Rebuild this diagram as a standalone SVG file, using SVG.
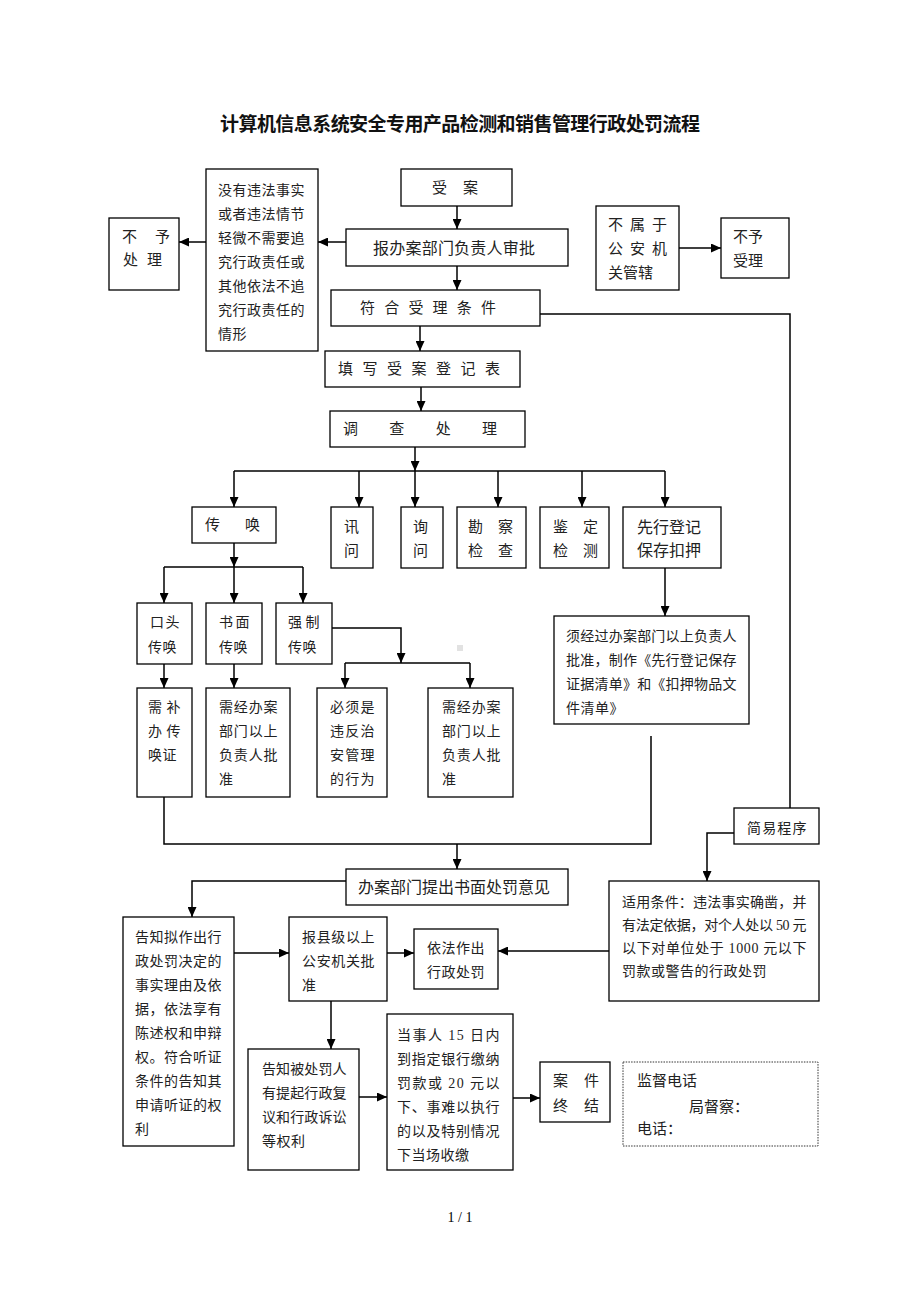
<svg xmlns="http://www.w3.org/2000/svg" width="920" height="1302" viewBox="0 0 920 1302">
<style>
.bx{fill:#fff;stroke:#000;stroke-width:1.3}
.dot{fill:#fff;stroke:#333;stroke-width:1;stroke-dasharray:1.5 1.2}
.c{fill:none;stroke:#000;stroke-width:1.5}
text{font-family:"Liberation Serif","Noto Sans CJK SC",serif;fill:#222;dominant-baseline:central}
.t14{font-size:14px;letter-spacing:0.5px}
.t15{font-size:15px}
.t16{font-size:16px}
.title{font-family:"Liberation Sans","Noto Sans CJK SC",sans-serif;font-size:19px;font-weight:bold;fill:#111}
.pg{font-size:14px;fill:#000}
</style>
<defs>
<marker id="ar" markerUnits="userSpaceOnUse" markerWidth="10" markerHeight="9" refX="10" refY="4.5" orient="auto">
<path d="M0,0 L10,4.5 L0,9 z" fill="#000"/>
</marker>
</defs>
<rect width="920" height="1302" fill="#fff"/>
<text class="title" x="220" y="124" textLength="480" lengthAdjust="spacing">计算机信息系统安全专用产品检测和销售管理行政处罚流程</text>

<g id="connectors">
<path class="c" d="M457 206 V229" marker-end="url(#ar)"/>
<path class="c" d="M346 242 H318" marker-end="url(#ar)"/>
<path class="c" d="M206 242 H179" marker-end="url(#ar)"/>
<path class="c" d="M457 266 V290" marker-end="url(#ar)"/>
<path class="c" d="M679 248 H721" marker-end="url(#ar)"/>
<path class="c" d="M540 314 H790 V808"/>
<path class="c" d="M420 326 V351" marker-end="url(#ar)"/>
<path class="c" d="M421 387 V411" marker-end="url(#ar)"/>
<path class="c" d="M415 447 V471" marker-end="url(#ar)"/>
<path class="c" d="M234 471 H665"/>
<path class="c" d="M234 471 V507" marker-end="url(#ar)"/>
<path class="c" d="M359 471 V507" marker-end="url(#ar)"/>
<path class="c" d="M415 471 V507" marker-end="url(#ar)"/>
<path class="c" d="M498 471 V507" marker-end="url(#ar)"/>
<path class="c" d="M582 471 V507" marker-end="url(#ar)"/>
<path class="c" d="M665 471 V507" marker-end="url(#ar)"/>
<path class="c" d="M234 543 V567" marker-end="url(#ar)"/>
<path class="c" d="M164 567 H303"/>
<path class="c" d="M164 567 V603" marker-end="url(#ar)"/>
<path class="c" d="M234 567 V603" marker-end="url(#ar)"/>
<path class="c" d="M303 567 V603" marker-end="url(#ar)"/>
<path class="c" d="M332 628 H401 V663" marker-end="url(#ar)"/>
<path class="c" d="M345 663 H470"/>
<path class="c" d="M345 663 V688" marker-end="url(#ar)"/>
<path class="c" d="M470 663 V688" marker-end="url(#ar)"/>
<path class="c" d="M164 664 V688" marker-end="url(#ar)"/>
<path class="c" d="M234 664 V688" marker-end="url(#ar)"/>
<path class="c" d="M665 568 V616" marker-end="url(#ar)"/>
<path class="c" d="M164 797 V844 H651 V736"/>
<path class="c" d="M457 844 V869" marker-end="url(#ar)"/>
<path class="c" d="M346 881 H192 V917" marker-end="url(#ar)"/>
<path class="c" d="M234 953 H289" marker-end="url(#ar)"/>
<path class="c" d="M387 953 H414" marker-end="url(#ar)"/>
<path class="c" d="M609 951 H498" marker-end="url(#ar)"/>
<path class="c" d="M734 833 H707 V881" marker-end="url(#ar)"/>
<path class="c" d="M331 1001 V1049" marker-end="url(#ar)"/>
<path class="c" d="M359 1097 H387" marker-end="url(#ar)"/>
<path class="c" d="M513 1098 H540" marker-end="url(#ar)"/>
</g>

<g id="n-shouan"><rect class="bx" x="401" y="169" width="111" height="37"/>
<text class="t15" x="432" y="188" textLength="46">受　案</text></g>

<g id="n-baoban"><rect class="bx" x="346" y="229" width="222" height="37"/>
<text class="t16" x="373" y="248" textLength="162">报办案部门负责人审批</text></g>

<g id="n-meiyou"><rect class="bx" x="206" y="169" width="112" height="182"/>
<text class="t14" x="218" y="190">没有违法事实</text>
<text class="t14" x="218" y="214">或者违法情节</text>
<text class="t14" x="218" y="238">轻微不需要追</text>
<text class="t14" x="218" y="262">究行政责任或</text>
<text class="t14" x="218" y="286">其他依法不追</text>
<text class="t14" x="218" y="310">究行政责任的</text>
<text class="t14" x="218" y="334">情形</text></g>

<g id="n-buyuchuli"><rect class="bx" x="109" y="218" width="70" height="72"/>
<text class="t15" x="122" y="237" textLength="48">不　予</text>
<text class="t15" x="123" y="260" textLength="39">处 理</text></g>

<g id="n-fuhe"><rect class="bx" x="331" y="290" width="209" height="36"/>
<text class="t15" x="360" y="308" textLength="136">符 合 受 理 条 件</text></g>

<g id="n-bushuyu"><rect class="bx" x="596" y="206" width="83" height="84"/>
<text class="t15" x="608" y="225" textLength="59">不 属 于</text>
<text class="t15" x="608" y="249" textLength="59">公 安 机</text>
<text class="t15" x="608" y="273">关管辖</text></g>

<g id="n-buyushouli"><rect class="bx" x="721" y="218" width="68" height="60"/>
<text class="t15" x="733" y="237">不予</text>
<text class="t15" x="733" y="261">受理</text></g>

<g id="n-tianxie"><rect class="bx" x="325" y="351" width="195" height="36"/>
<text class="t15" x="338" y="369" textLength="162">填 写 受 案 登 记 表</text></g>

<g id="n-diaocha"><rect class="bx" x="330" y="411" width="195" height="36"/>
<text class="t15" x="343" y="429" textLength="154">调　　查　　处　　理</text></g>

<g id="n-chuanhuan"><rect class="bx" x="192" y="507" width="84" height="36"/>
<text class="t15" x="205" y="525" textLength="55">传　　唤</text></g>

<g id="n-xunwen1"><rect class="bx" x="331" y="507" width="42" height="61"/>
<text class="t15" x="344" y="527">讯</text>
<text class="t15" x="344" y="551">问</text></g>

<g id="n-xunwen2"><rect class="bx" x="401" y="507" width="42" height="61"/>
<text class="t15" x="413" y="527">询</text>
<text class="t15" x="413" y="551">问</text></g>

<g id="n-kancha"><rect class="bx" x="457" y="507" width="69" height="61"/>
<text class="t15" x="468" y="527" textLength="45">勘 察</text>
<text class="t15" x="468" y="551" textLength="45">检 查</text></g>

<g id="n-jianding"><rect class="bx" x="540" y="507" width="69" height="61"/>
<text class="t15" x="553" y="527" textLength="45">鉴 定</text>
<text class="t15" x="553" y="551" textLength="45">检 测</text></g>

<g id="n-xianxing"><rect class="bx" x="623" y="507" width="98" height="61"/>
<text class="t16" x="637" y="527">先行登记</text>
<text class="t16" x="637" y="550">保存扣押</text></g>

<g id="n-koutou"><rect class="bx" x="137" y="603" width="55" height="61"/>
<text class="t14" x="150" y="622" textLength="30">口 头</text>
<text class="t14" x="148" y="647">传唤</text></g>

<g id="n-shumian"><rect class="bx" x="206" y="603" width="56" height="61"/>
<text class="t14" x="219" y="622" textLength="31">书 面</text>
<text class="t14" x="219" y="647">传唤</text></g>

<g id="n-qiangzhi"><rect class="bx" x="276" y="603" width="56" height="61"/>
<text class="t14" x="288" y="622" textLength="32">强 制</text>
<text class="t14" x="288" y="647">传唤</text></g>

<rect x="457" y="645" width="6" height="6" fill="#e2e2e2"/>

<g id="n-xubu"><rect class="bx" x="137" y="688" width="55" height="109"/>
<text class="t14" x="148" y="707" textLength="33">需 补</text>
<text class="t14" x="148" y="731" textLength="33">办 传</text>
<text class="t14" x="148" y="755">唤证</text></g>

<g id="n-xujing1"><rect class="bx" x="206" y="688" width="84" height="109"/>
<text class="t14" x="219" y="707" textLength="59">需经办案</text>
<text class="t14" x="219" y="731" textLength="59">部门以上</text>
<text class="t14" x="219" y="755" textLength="59">负责人批</text>
<text class="t14" x="219" y="779">准</text></g>

<g id="n-bixu"><rect class="bx" x="317" y="688" width="70" height="109"/>
<text class="t14" x="330" y="707" textLength="45">必须是</text>
<text class="t14" x="330" y="731" textLength="45">违反治</text>
<text class="t14" x="330" y="755" textLength="45">安管理</text>
<text class="t14" x="330" y="779" textLength="45">的行为</text></g>

<g id="n-xujing2"><rect class="bx" x="428" y="688" width="85" height="109"/>
<text class="t14" x="442" y="707" textLength="59">需经办案</text>
<text class="t14" x="442" y="731" textLength="59">部门以上</text>
<text class="t14" x="442" y="755" textLength="59">负责人批</text>
<text class="t14" x="442" y="779">准</text></g>

<g id="n-xujingguo"><rect class="bx" x="554" y="616" width="195" height="108"/>
<text class="t14" x="566" y="636" textLength="171">须经过办案部门以上负责人</text>
<text class="t14" x="566" y="660" textLength="171">批准，制作《先行登记保存</text>
<text class="t14" x="566" y="684" textLength="171">证据清单》和《扣押物品文</text>
<text class="t14" x="566" y="708">件清单》</text></g>

<g id="n-jianyi"><rect class="bx" x="734" y="808" width="85" height="36"/>
<text class="t14" x="747" y="828" textLength="60">简易程序</text></g>

<g id="n-tichu"><rect class="bx" x="346" y="869" width="222" height="36"/>
<text class="t16" x="358" y="887" textLength="192">办案部门提出书面处罚意见</text></g>

<g id="n-gaozhi"><rect class="bx" x="123" y="917" width="111" height="229"/>
<text class="t14" x="135" y="937" textLength="87">告知拟作出行</text>
<text class="t14" x="135" y="961" textLength="87">政处罚决定的</text>
<text class="t14" x="135" y="985" textLength="87">事实理由及依</text>
<text class="t14" x="135" y="1009" textLength="87">据，依法享有</text>
<text class="t14" x="135" y="1033" textLength="87">陈述权和申辩</text>
<text class="t14" x="135" y="1057" textLength="87">权。符合听证</text>
<text class="t14" x="135" y="1081" textLength="87">条件的告知其</text>
<text class="t14" x="135" y="1105" textLength="87">申请听证的权</text>
<text class="t14" x="135" y="1129">利</text></g>

<g id="n-baoxian"><rect class="bx" x="289" y="917" width="98" height="84"/>
<text class="t14" x="302" y="937" textLength="73">报县级以上</text>
<text class="t14" x="302" y="961" textLength="73">公安机关批</text>
<text class="t14" x="302" y="985">准</text></g>

<g id="n-yifa"><rect class="bx" x="414" y="929" width="84" height="60"/>
<text class="t14" x="427" y="948" textLength="58">依法作出</text>
<text class="t14" x="427" y="972" textLength="58">行政处罚</text></g>

<g id="n-shiyong"><rect class="bx" x="609" y="881" width="210" height="120"/>
<text class="t14" x="622" y="902" textLength="185">适用条件：违法事实确凿，并</text>
<text class="t14" x="622" y="925" textLength="185">有法定依据，对个人处以 50 元</text>
<text class="t14" x="622" y="948" textLength="185">以下对单位处于 1000 元以下</text>
<text class="t14" x="622" y="971">罚款或警告的行政处罚</text></g>

<g id="n-gaozhibei"><rect class="bx" x="248" y="1049" width="111" height="121"/>
<text class="t14" x="262" y="1069" textLength="85">告知被处罚人</text>
<text class="t14" x="262" y="1093" textLength="85">有提起行政复</text>
<text class="t14" x="262" y="1117" textLength="85">议和行政诉讼</text>
<text class="t14" x="262" y="1141">等权利</text></g>

<g id="n-dangshiren"><rect class="bx" x="387" y="1014" width="126" height="156"/>
<text class="t14" x="397" y="1035" textLength="103">当事人 15 日内</text>
<text class="t14" x="397" y="1059" textLength="103">到指定银行缴纳</text>
<text class="t14" x="397" y="1083" textLength="103">罚款或 20 元以</text>
<text class="t14" x="397" y="1107" textLength="103">下、事难以执行</text>
<text class="t14" x="397" y="1131" textLength="103">的以及特别情况</text>
<text class="t14" x="397" y="1155">下当场收缴</text></g>

<g id="n-anjian"><rect class="bx" x="540" y="1062" width="70" height="60"/>
<text class="t15" x="553" y="1081" textLength="46">案　件</text>
<text class="t15" x="553" y="1106" textLength="46">终　结</text></g>

<g id="n-jiandu"><rect class="dot" x="623" y="1062" width="195" height="84"/>
<text class="t15" x="637" y="1081">监督电话</text>
<text class="t15" x="689" y="1107">局督察：</text>
<text class="t15" x="637" y="1129">电话：</text></g>

<text class="pg" x="460" y="1217" text-anchor="middle">1 / 1</text>
</svg>
